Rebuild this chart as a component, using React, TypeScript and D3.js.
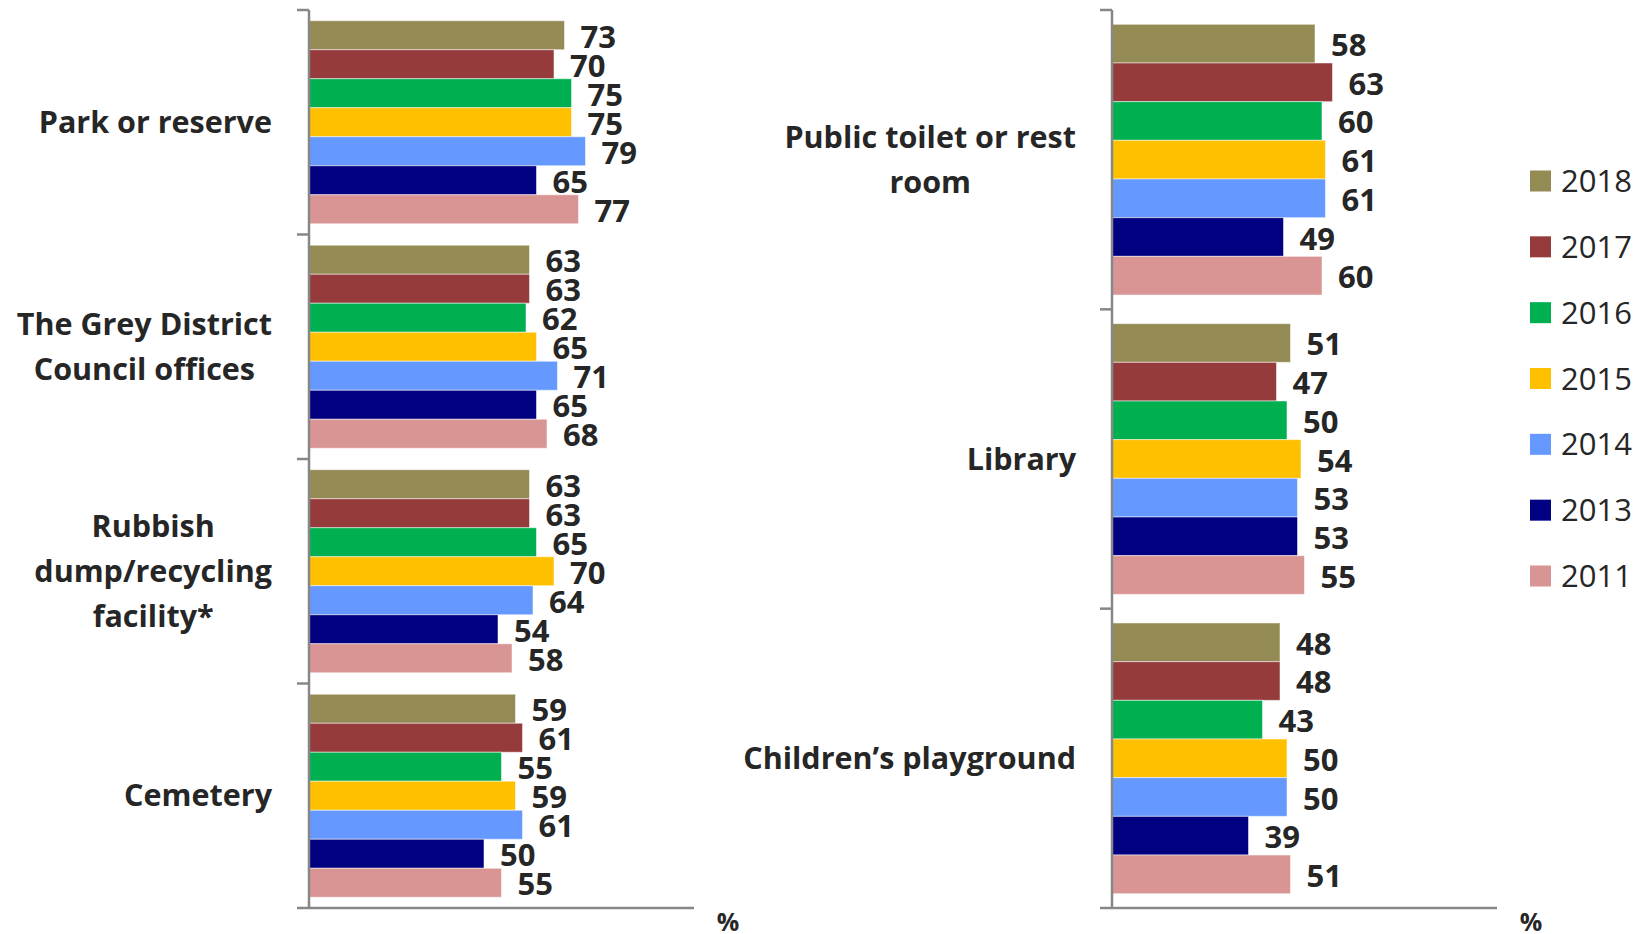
import React, { useEffect, useRef } from "react";
import * as d3 from "d3";

// series (top bar to bottom bar in each group)
const years = ["2018", "2017", "2016", "2015", "2014", "2013", "2011"];
const colors = ["#948A54", "#953B3B", "#00B050", "#FFC000", "#6699FF", "#000080", "#D99594"];

const leftCategories = [
  "Park or reserve",
  "The Grey District\nCouncil offices",
  "Rubbish\ndump/recycling\nfacility*",
  "Cemetery",
];
const parkValues = [73, 70, 75, 75, 79, 65, 77];
const councilValues = [63, 63, 62, 65, 71, 65, 68];
const rubbishValues = [63, 63, 65, 70, 64, 54, 58];
const cemeteryValues = [59, 61, 55, 59, 61, 50, 55];

const rightCategories = ["Public toilet or rest\nroom", "Library", "Children’s playground"];
const toiletValues = [58, 63, 60, 61, 61, 49, 60];
const libraryValues = [51, 47, 50, 54, 53, 53, 55];
const playgroundValues = [48, 48, 43, 50, 50, 39, 51];

const xMax = 110;
const axisUnit = "%";

const WIDTH = 1644;
const HEIGHT = 934;
const FONT = "'Open Sans', Lato, sans-serif";
const TEXT = "#262626";
const AXIS = "#878787";

function drawPanel(svg, categories, values, left, right, labelRight) {
  const top = 10;
  const bottom = 908;

  const xScale = d3.scaleLinear().domain([0, xMax]).range([left, right]);
  const yScale = d3.scaleBand().domain(categories).range([top, bottom]).paddingInner(0).paddingOuter(0);
  const inner = d3
    .scaleBand()
    .domain(years)
    .range([0, yScale.bandwidth()])
    .paddingInner(0)
    .paddingOuter(0.37);

  const g = svg.append("g");

  categories.forEach((cat, ci) => {
    const gy = yScale(cat);
    const rows = values[ci];

    g.selectAll(null)
      .data(rows)
      .enter()
      .append("rect")
      .attr("x", xScale(0))
      .attr("y", (d, i) => gy + inner(years[i]))
      .attr("width", (d) => xScale(d) - xScale(0))
      .attr("height", inner.bandwidth())
      .attr("fill", (d, i) => colors[i])
      .attr("stroke", "rgba(255,255,255,0.5)")
      .attr("stroke-width", 1);

    g.selectAll(null)
      .data(rows)
      .enter()
      .append("text")
      .attr("x", (d) => xScale(d) + 16)
      .attr("y", (d, i) => gy + inner(years[i]) + inner.bandwidth() / 2 + 12.5)
      .attr("font-family", FONT)
      .attr("font-weight", 700)
      .attr("font-size", 31)
      .attr("fill", TEXT)
      .text((d) => d);

    // category label, lines centred, block right-aligned
    const lines = cat.split("\n");
    const lineH = 45;
    const cy = gy + yScale.bandwidth() / 2;
    const label = g
      .append("text")
      .attr("font-family", FONT)
      .attr("font-weight", 700)
      .attr("font-size", 30.5)
      .attr("fill", TEXT)
      .attr("text-anchor", "middle");
    const tspans = lines.map((ln, li) =>
      label
        .append("tspan")
        .attr("y", cy + (li - (lines.length - 1) / 2) * lineH + 10.5)
        .text(ln)
    );
    const maxW = d3.max(tspans, (t) => t.node().getComputedTextLength());
    tspans.forEach((t) => t.attr("x", labelRight - maxW / 2));
  });

  // category axis with ticks at group boundaries
  const bounds = categories.map((c) => yScale(c)).concat([bottom]);
  g.append("line")
    .attr("x1", left)
    .attr("x2", left)
    .attr("y1", top)
    .attr("y2", bottom + 1)
    .attr("stroke", AXIS)
    .attr("stroke-width", 2.5);
  g.selectAll(null)
    .data(bounds)
    .enter()
    .append("line")
    .attr("x1", left - 12)
    .attr("x2", left)
    .attr("y1", (d) => d)
    .attr("y2", (d) => d)
    .attr("stroke", AXIS)
    .attr("stroke-width", 2.5);
  g.append("line")
    .attr("x1", left)
    .attr("x2", right)
    .attr("y1", bottom)
    .attr("y2", bottom)
    .attr("stroke", AXIS)
    .attr("stroke-width", 2.5);

  g.append("text")
    .attr("x", right + 34)
    .attr("y", bottom + 23)
    .attr("text-anchor", "middle")
    .attr("font-family", FONT)
    .attr("font-weight", 700)
    .attr("font-size", 25)
    .attr("fill", TEXT)
    .text(axisUnit);
}

export default function App() {
  const ref = useRef(null);

  useEffect(() => {
    const svg = d3.select(ref.current);
    svg.selectAll("*").remove();

    drawPanel(svg, leftCategories, [parkValues, councilValues, rubbishValues, cemeteryValues], 309, 694, 272);
    drawPanel(svg, rightCategories, [toiletValues, libraryValues, playgroundValues], 1112, 1497, 1076);

    // legend
    const legendY = d3.scalePoint().domain(years).range([181, 576]);
    const legend = svg.append("g");
    legend
      .selectAll(null)
      .data(years)
      .enter()
      .append("rect")
      .attr("x", 1530)
      .attr("y", (d) => legendY(d) - 10.5)
      .attr("width", 21)
      .attr("height", 21)
      .attr("fill", (d, i) => colors[i]);
    legend
      .selectAll(null)
      .data(years)
      .enter()
      .append("text")
      .attr("x", 1561)
      .attr("y", (d) => legendY(d) + 11)
      .attr("font-family", FONT)
      .attr("font-size", 31)
      .attr("fill", TEXT)
      .text((d) => d);
  }, []);

  return (
    <svg
      ref={ref}
      width={WIDTH}
      height={HEIGHT}
      style={{ position: "absolute", left: 0, top: 0, background: "#fff" }}
    ></svg>
  );
}
